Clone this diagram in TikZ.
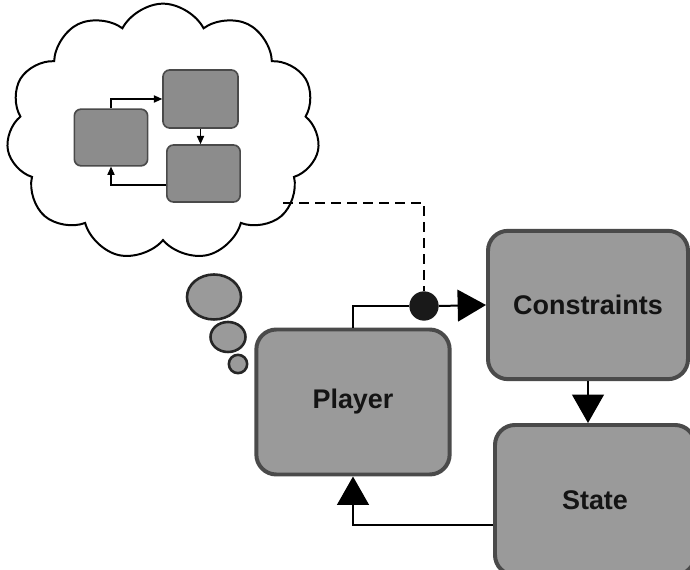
\documentclass[tikz,border=0pt]{standalone}
\usepackage{fontspec}
\setsansfont{Liberation Sans}
\usetikzlibrary{shapes.symbols,shapes.geometric,arrows.meta}
\definecolor{boxgray}{HTML}{9A9A9A}
\definecolor{minigray}{HTML}{8C8C8C}
\definecolor{edgegray}{HTML}{4A4A4A}
\begin{document}
\begin{tikzpicture}[x=0.03cm,y=-0.03cm,
 bigbox/.style={draw=edgegray, fill=boxgray, line width=3.4pt, rounded corners=0.6cm,
   font=\sffamily\bfseries\fontsize{23}{27}\selectfont, text=black!92},
 minibox/.style={draw=edgegray, fill=minigray, line width=1.4pt, rounded corners=0.2cm,
   minimum width=2.2cm, minimum height=1.7cm},
 bubble/.style={ellipse, draw=black!85, fill=boxgray, line width=2.2pt, inner sep=0pt},
 arr/.style={line width=1.7pt, -{Triangle[length=0.85cm,width=0.95cm]}},
 miniarr/.style={line width=0.9pt, -{Triangle[length=0.25cm,width=0.22cm]}}]
\clip (0,0) rectangle (690,570);
\fill[white] (0,0) rectangle (690,570);
% thought cloud
\node[cloud, draw, line width=1.7pt, cloud puffs=11, cloud puff arc=125,
  minimum width=9.4cm, minimum height=7.7cm] (thought) at (163,132) {};
\coordinate (cloudend) at (283,203);
\node[bubble, minimum width=1.62cm, minimum height=1.35cm] (bub1) at (214,297) {};
\node[bubble, minimum width=1.05cm, minimum height=0.9cm] (bub2) at (228,337) {};
\node[bubble, minimum width=0.55cm, minimum height=0.55cm] (bub3) at (238,364) {};
% small loop inside the cloud
\node[minibox] (mini1) at (111,137.5) {};
\node[minibox, minimum width=2.25cm, minimum height=1.74cm] (mini2) at (200.5,99) {};
\node[minibox, minimum height=1.71cm] (mini3) at (203.5,173.5) {};
\draw[miniarr] (mini1.north) |- (mini2.west);
\draw[miniarr] (mini2.south) -- (mini2.south |- mini3.north);
\draw[miniarr] (mini3.west |- 0,185) -| (mini1.south);
% main loop
\node[bigbox, minimum width=5.8cm, minimum height=4.35cm] (player) at (353,402) {Player};
\node[bigbox, minimum width=6cm, minimum height=4.45cm] (cons) at (588,305) {Constraints};
\node[bigbox, minimum width=6cm, minimum height=4.5cm] (state) at (595,500) {State};
\node[circle, fill=black!90, minimum size=0.88cm, inner sep=0pt] (dot) at (424,306) {};
\draw[line width=1.7pt] (player.north) |- (dot.west);
\draw[arr] (dot.east) -- (cons.west);
\draw[arr] (cons.south) -- (cons.south |- state.north);
\draw[arr] (state.west |- 0,525) -| (player.south);
\draw[line width=1.7pt, dash pattern=on 0.3cm off 0.18cm] (cloudend) -| (dot.north);
\end{tikzpicture}
\end{document}
